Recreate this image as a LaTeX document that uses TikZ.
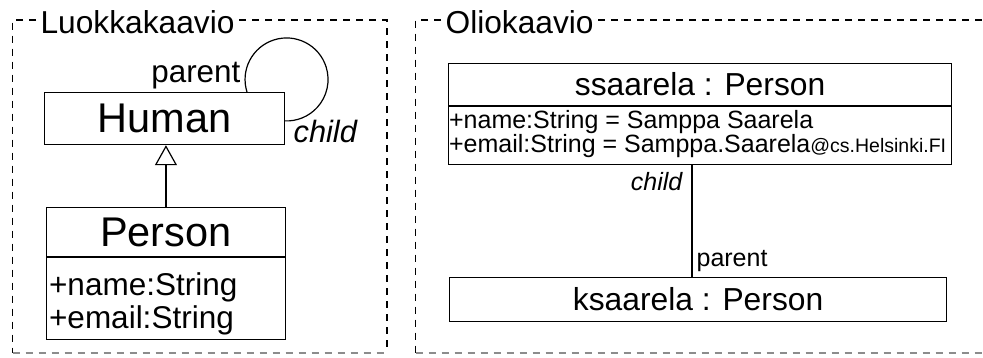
\documentclass[tikz,border=0pt]{standalone}
\usepackage{fontspec}
\setmainfont{Liberation Sans}
\usetikzlibrary{arrows.meta,calc}
\newcommand\setfs[1]{\fontsize{#1}{#1}\selectfont}
\begin{document}
\begin{tikzpicture}[x=1pt,y=1pt,line width=1.2pt,
  box/.style={draw,rectangle,inner sep=0pt,anchor=north west},
  lbl/.style={inner sep=0pt},
  framedash/.style={dash pattern=on 7pt off 6pt,line width=1.1pt},
  framebottom/.style={framedash,draw=black!45}]
\useasboundingbox (0,0) rectangle (983,-357);
% ---------- frames ----------
\node[lbl,anchor=base west,font=\setfs{31.7}] (t1) at (40,-33) {Luokkakaavio};
\coordinate (f1tl) at (12.5,-20);
\coordinate (f1tr) at (387,-20);
\coordinate (f1bl) at (12.5,-353);
\coordinate (f1br) at (387,-353);
\draw[framedash] ($(t1.west|-f1tl)+(-4,0)$) -- (f1tl) -- (f1bl);
\draw[framedash] ($(t1.east|-f1tl)+(4,0)$) -- (f1tr) -- (f1br);
\draw[framebottom] (f1bl) -- (f1br);
\node[lbl,anchor=base west,font=\setfs{31.7}] (t2) at (445,-33) {Oliokaavio};
\coordinate (f2tl) at (415.7,-20);
\coordinate (f2tr) at (983,-20);
\coordinate (f2bl) at (415.7,-353);
\coordinate (f2br) at (983,-353);
\draw[framedash] ($(t2.west|-f2tl)+(-4,0)$) -- (f2tl) -- (f2bl);
\draw[framedash] ($(t2.east|-f2tl)+(4,0)$) -- (f2tr);
\draw[framebottom] (f2bl) -- (f2br);
% ---------- class diagram ----------
\node[box,minimum width=240,minimum height=52,font=\setfs{41.5}] (human) at (44,-92) {Human};
\draw ($(human.north west)+(203,0)$) arc[start angle=197.6,end angle=-93,radius=41.5];
\node[lbl,anchor=base east,font=\setfs{31.4}] (lparent) at (241,-82) {parent};
\node[lbl,anchor=base west,font=\setfs{30.8}\itshape] (lchild) at (293,-142) {child};
\node[box,minimum width=239.3,minimum height=49,font=\setfs{41.5}] (person) at (45.7,-207) {Person};
\node[box,minimum width=239.3,minimum height=82] (personattr) at (person.south west) {};
\node[lbl,anchor=base west,font=\setfs{31.5}] (pa1) at (48.5,-295) {+name:String};
\node[lbl,anchor=base west,font=\setfs{31.5}] (pa2) at (48.5,-328) {+email:String};
\draw[-{Triangle[open,length=20pt,width=22pt]}] (person.north) -- (person.north |- human.south);
% ---------- object diagram ----------
\node[box,minimum width=503,minimum height=42,font=\setfs{31.8}] (ss) at (448,-63) {ssaarela : Person};
\node[box,minimum width=503,minimum height=58] (ssattr) at (ss.south west) {};
\node[lbl,anchor=base west,font=\setfs{25}] (sa1) at (448.5,-128) {+name:String = Samppa Saarela};
\node[lbl,anchor=base west,font=\setfs{25}] (sa2) at (448.5,-152) {+email:String = Samppa.Saarela{\setfs{19.5}@cs.Helsinki.FI}};
\node[box,minimum width=497,minimum height=44,font=\setfs{31.8}] (ks) at (449,-277) {ksaarela : Person};
\coordinate (cs) at ($(ssattr.south west)+(244,0)$);
\draw (cs) -- (cs |- ks.north);
\node[lbl,anchor=base east,font=\setfs{25}\itshape] (rchild) at (683,-190) {child};
\node[lbl,anchor=base west,font=\setfs{25}] (rparent) at (696,-266) {parent};
\end{tikzpicture}
\end{document}
